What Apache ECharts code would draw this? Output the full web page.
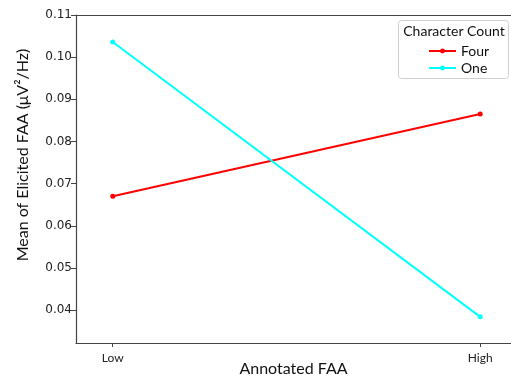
<!DOCTYPE html>
<html>
<head>
<meta charset="utf-8">
<script src="https://cdn.jsdelivr.net/npm/echarts@6/dist/echarts.min.js"></script>
<style>
  html, body { margin: 0; padding: 0; background: #fff; }
  #chart { width: 511px; height: 378px; }
</style>
</head>
<body>
<div id="chart"></div>
<script>
  // x categories and the two series (mean elicited FAA)
  var xCats = ['Low', 'High']
  var seriesNames = ['Four', 'One']
  var fourVals = [0.0670, 0.0865]
  var oneVals = [0.1036, 0.0384]
  var yTicks = [0.04, 0.05, 0.06, 0.07, 0.08, 0.09, 0.10, 0.11]
  var xTicks = [0, 1]

  var labelFont = 'Lato'
  var tickFont = 'DejaVu Sans'
  var axisColor = '#444'

  var chart = echarts.init(document.getElementById('chart'))
  chart.setOption({
    animation: false,
    backgroundColor: '#fff',
    grid: {
      left: 76,
      right: 0,
      top: 15,
      bottom: 35,
      containLabel: false,
      outerBoundsMode: 'none'
    },
    legend: {
      data: seriesNames,
      orient: 'vertical',
      left: 423,
      top: 39,
      itemWidth: 27,
      itemHeight: 6,
      itemGap: 3,
      textStyle: {
        fontFamily: labelFont,
        fontSize: 14,
        color: '#111'
      }
    },
    graphic: [
      {
        type: 'rect',
        left: 398,
        top: 20,
        shape: { width: 110, height: 58, r: 3 },
        style: { fill: 'rgba(255,255,255,0.8)', stroke: '#d0d0d0', lineWidth: 1 },
        z: 0
      },
      {
        type: 'text',
        x: 454,
        y: 31,
        style: {
          text: 'Character Count',
          fontFamily: labelFont,
          fontSize: 14,
          fill: '#111',
          textAlign: 'center',
          textVerticalAlign: 'middle'
        }
      },
      {
        type: 'text',
        x: 23,
        y: 155,
        rotation: Math.PI / 2,
        style: {
          text: 'Mean of Elicited FAA (μV²/Hz)',
          fontFamily: labelFont,
          fontSize: 16,
          fill: '#111',
          textAlign: 'center',
          textVerticalAlign: 'middle'
        }
      }
    ],
    xAxis: [
      {
        type: 'value',
        min: -0.1,
        max: 1.0837,
        name: 'Annotated FAA',
        nameLocation: 'middle',
        nameGap: 18,
        nameMoveOverlap: false,
        nameTextStyle: {
          fontFamily: labelFont,
          fontSize: 16,
          color: '#111'
        },
        axisLine: { show: true, onZero: false, lineStyle: { color: axisColor, width: 1.2 } },
        axisTick: { show: true, length: 4, customValues: xTicks, lineStyle: { color: axisColor } },
        axisLabel: {
          customValues: xTicks,
          margin: 9,
          fontFamily: labelFont,
          fontSize: 12,
          color: '#222',
          formatter: function (v) { return xCats[Math.round(v)] }
        },
        splitLine: { show: false }
      },
      {
        type: 'value',
        position: 'top',
        min: -0.1,
        max: 1.0837,
        axisLine: { show: true, onZero: false, lineStyle: { color: axisColor, width: 1.2 } },
        axisTick: { show: false },
        axisLabel: { show: false },
        splitLine: { show: false }
      }
    ],
    yAxis: {
      type: 'value',
      min: 0.0322,
      max: 0.11,
      axisLine: { show: true, onZero: false, lineStyle: { color: axisColor, width: 1.2 } },
      axisTick: { show: true, length: 5, customValues: yTicks, lineStyle: { color: axisColor } },
      axisLabel: {
        customValues: yTicks,
        margin: 4,
        fontFamily: tickFont,
        fontSize: 12,
        color: '#222',
        formatter: function (v) { return v.toFixed(2) }
      },
      splitLine: { show: false }
    },
    series: [
      {
        name: seriesNames[0],
        type: 'line',
        xAxisIndex: 0,
        data: fourVals.map(function (v, i) { return [i, v] }),
        symbol: 'circle',
        symbolSize: 5,
        lineStyle: { color: '#ff0000', width: 2 },
        itemStyle: { color: '#ff0000' }
      },
      {
        name: seriesNames[1],
        type: 'line',
        xAxisIndex: 0,
        data: oneVals.map(function (v, i) { return [i, v] }),
        symbol: 'circle',
        symbolSize: 5,
        lineStyle: { color: '#00ffff', width: 2 },
        itemStyle: { color: '#00ffff' }
      }
    ]
  })
</script>
</body>
</html>
